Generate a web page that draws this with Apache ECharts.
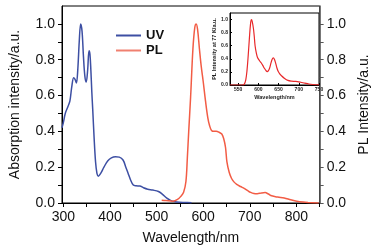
<!DOCTYPE html>
<html>
<head>
<meta charset="utf-8">
<script src="https://cdn.jsdelivr.net/npm/echarts@6/dist/echarts.min.js"></script>
<style>html,body{margin:0;padding:0;background:#fff}#c{width:379px;height:250px}</style>
</head>
<body>
<div id="c"></div>
<script>
// UV absorption: wavelength (nm), intensity
var uvWave = [297,300,304,310,314,318,322,325,328,331,334,337,340,343,346,349,352,355,357,359,361,363,366,369,372,375,380,387,395,403,412,420,428,434,439,444,450,456,464,472,481,492,504,512,522,530,538,549,560,575];
var uvVal  = [0.42,0.45,0.50,0.54,0.57,0.65,0.70,0.69,0.67,0.75,0.90,1.00,0.96,0.82,0.71,0.675,0.74,0.85,0.83,0.74,0.62,0.52,0.36,0.23,0.165,0.15,0.165,0.20,0.235,0.252,0.258,0.256,0.24,0.20,0.165,0.13,0.10,0.096,0.095,0.085,0.077,0.072,0.064,0.05,0.027,0.015,0.008,0.004,0.003,0.002];
// PL emission (room temperature)
var plWave = [511,520,535,545,552,558,563,566,569,573,578,582,585,588,592,596,600,605,610,614,618,623,628,634,640,644,648,651,656,661,666,672,680,688,695,702,709,716,725,733,740,747,760,774,788,801,815,825,848];
var plVal  = [0.016,0.014,0.01,0.02,0.037,0.06,0.12,0.25,0.40,0.59,0.86,0.98,1.00,0.97,0.86,0.76,0.68,0.57,0.476,0.43,0.405,0.40,0.40,0.395,0.385,0.36,0.31,0.23,0.17,0.137,0.118,0.104,0.092,0.082,0.07,0.059,0.053,0.052,0.056,0.058,0.05,0.04,0.033,0.028,0.018,0.01,0.005,0.003,0.0];
// Inset: PL at 77 K
var lowWave = [530,560,565,569,572,575,578,581,583,585,588,590,592,595,598,603,607,611,615,619,622,625,628,631,634,637,640,643,646,649,653,657,665,673,682,690,697,705,715,725,735,750];
var lowVal  = [0,0,0.01,0.08,0.22,0.45,0.72,0.95,1.0,0.97,0.86,0.74,0.6,0.49,0.42,0.37,0.34,0.30,0.255,0.22,0.205,0.22,0.26,0.33,0.39,0.415,0.39,0.33,0.26,0.21,0.17,0.143,0.1,0.07,0.058,0.055,0.052,0.042,0.028,0.015,0.008,0.003];
// Tick values
var xLabels = [300,400,500,600,700,800];
var xTicks = [300,350,400,450,500,550,600,650,700,750,800,850];
var yLabels = [0,0.2,0.4,0.6,0.8,1.0];
var yTicks = [0,0.1,0.2,0.3,0.4,0.5,0.6,0.7,0.8,0.9,1.0];
var insetXLabels = [550,600,650,700,750];
var insetYLabels = [0,0.2,0.4,0.6,0.8,1.0];

function zip(a,b){return a.map(function(v,i){return [v,b[i]];});}
var F = 'Liberation Sans, Arial, sans-serif';
var chart = echarts.init(document.getElementById('c'), null, {renderer:'canvas'});
var fmt = function(v){return Number(v).toFixed(1);};
chart.setOption({
  animation:false,
  backgroundColor:'#fff',
  legend:{
    orient:'vertical', left:111, top:23, padding:5, itemWidth:25, itemHeight:2, itemGap:0, itemTextGap:4,
    icon:'rect',
    textStyle:{fontFamily:F, fontSize:13, fontWeight:'bold', color:'#111', lineHeight:15},
    data:['UV','PL']
  },
  grid:[
    {left:57, right:52, top:6, bottom:43.5, show:true, borderColor:'#000', borderWidth:1},
    {left:230, top:13, width:89, height:72, show:true, borderColor:'#000', borderWidth:1}
  ],
  xAxis:[
    {gridIndex:0, type:'value', min:297, max:850,
     name:'Wavelength/nm', nameLocation:'middle', nameGap:28,
     nameTextStyle:{fontFamily:F, fontSize:14, color:'#111'},
     axisLine:{lineStyle:{color:'#000', width:1}},
     axisTick:{show:true, customValues:xTicks, length:4, lineStyle:{color:'#000'}},
     axisLabel:{customValues:xLabels, fontFamily:F, fontSize:14, color:'#111', margin:7},
     splitLine:{show:false}},
    {gridIndex:1, type:'value', min:530, max:750,
     name:'Wavelength/nm', nameLocation:'middle', nameGap:9,
     nameTextStyle:{fontFamily:F, fontSize:5.5, fontWeight:'bold', color:'#222'},
     axisLine:{lineStyle:{color:'#000', width:1}},
     axisTick:{show:true, customValues:insetXLabels, length:2, inside:true},
     axisLabel:{customValues:insetXLabels, fontFamily:F, fontSize:5, fontWeight:'bold', color:'#222', margin:2},
     splitLine:{show:false}}
  ],
  yAxis:[
    {gridIndex:0, type:'value', min:0, max:1.1, position:'left',
     name:'Absorption intensity/a.u.', nameLocation:'middle', nameGap:40, nameRotate:90,
     nameTextStyle:{fontFamily:F, fontSize:14, color:'#111'},
     axisLine:{show:true, lineStyle:{color:'#000', width:1}},
     axisTick:{show:true, customValues:yTicks, length:4, lineStyle:{color:'#000'}},
     axisLabel:{customValues:yLabels, formatter:fmt, fontFamily:F, fontSize:14, color:'#111', margin:7},
     splitLine:{show:false}},
    {gridIndex:0, type:'value', min:0, max:1.1, position:'right',
     name:'PL Intensity/a.u.', nameLocation:'middle', nameGap:31, nameRotate:90,
     nameTextStyle:{fontFamily:F, fontSize:14, color:'#111'},
     axisLine:{show:true, lineStyle:{color:'#555', width:1.5}},
     axisTick:{show:true, customValues:yTicks, length:4, lineStyle:{color:'#555'}},
     axisLabel:{customValues:yLabels, formatter:fmt, fontFamily:F, fontSize:14, color:'#111', margin:7},
     splitLine:{show:false}},
    {gridIndex:1, type:'value', min:0, max:1.1,
     name:'PL Intensity at 77 K/a.u.', nameLocation:'middle', nameGap:11, nameRotate:90,
     nameTextStyle:{fontFamily:F, fontSize:5.5, fontWeight:'bold', color:'#222'},
     axisLine:{show:true, lineStyle:{color:'#000', width:1}},
     axisTick:{show:true, customValues:insetYLabels, length:2, inside:true},
     axisLabel:{customValues:insetYLabels, formatter:fmt, fontFamily:F, fontSize:5, fontWeight:'bold', color:'#222', margin:2},
     splitLine:{show:false}}
  ],
  series:[
    {name:'UV', type:'line', xAxisIndex:0, yAxisIndex:0, data:zip(uvWave,uvVal), smooth:0.35, symbol:'none',
     lineStyle:{color:'#3d4fa3', width:1.5}, itemStyle:{color:'#3d4fa3'}},
    {name:'PL', type:'line', xAxisIndex:0, yAxisIndex:1, data:zip(plWave,plVal), smooth:0.35, symbol:'none',
     lineStyle:{color:'#f25c45', width:1.5}, itemStyle:{color:'#f08070'}},
    {name:'PL77', type:'line', xAxisIndex:1, yAxisIndex:2, data:zip(lowWave,lowVal), smooth:0.35, symbol:'none',
     lineStyle:{color:'#e8282a', width:1.2}, itemStyle:{color:'#e8282a'}}
  ]
});
</script>
</body>
</html>
